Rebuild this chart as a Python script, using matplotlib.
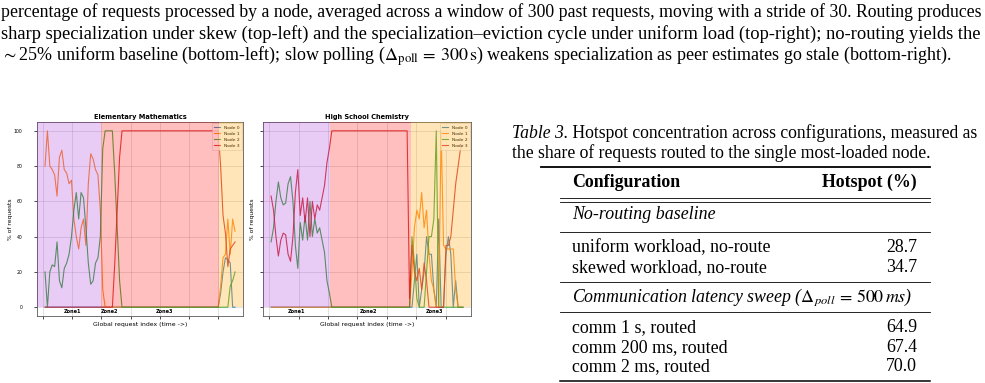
import numpy as np
import matplotlib.pyplot as plt
from matplotlib.lines import Line2D

plt.rcParams['mathtext.fontset'] = 'stix'

W, H = 985, 383
fig = plt.figure(figsize=(W / 100, H / 100), dpi=100)
renderer = fig.canvas.get_renderer()

# ---- data: % of requests per node, one value per sampled window ----
nodes = ['Node 0', 'Node 1', 'Node 2', 'Node 3']
node_colors = ['tab:blue', 'tab:orange', 'tab:green', 'tab:red']

math_node0 = [0, 0, 0, 0, 0, 0, 0, 0, 0, 0, 0, 0, 0, 0, 0, 0, 0, 0, 0, 0,
              0, 0, 0, 0, 0, 0, 0, 0, 0, 0, 0, 0, 0, 0, 0, 0, 0, 0, 0, 0,
              0, 0, 0, 0, 0, 0, 0, 0, 0, 0, 0, 0, 0, 0, 0, 0, 0, 0, 0, 0,
              0, 0, 0, 0, 0, 0, 0, 0, 0, 0, 0, 0, 0, 8, 20, 28, 27, 25, 0, 0]
math_node1 = [80, 100, 80, 78, 75, 63, 85, 89, 78, 76, 70, 72, 50, 40, 33, 45, 50, 35, 70, 87,
              84, 78, 75, 55, 10, 0, 0, 0, 0, 0, 0, 0, 0, 0, 0, 0, 0, 0, 0, 0,
              0, 0, 0, 0, 0, 0, 0, 0, 0, 0, 0, 0, 0, 0, 0, 0, 0, 0, 0, 0,
              0, 0, 0, 0, 0, 0, 0, 0, 0, 0, 0, 0, 0, 12, 28, 30, 50, 30, 50, 43]
math_node2 = [20, 0, 20, 24, 23, 37, 15, 11, 22, 25, 30, 40, 55, 65, 50, 65, 62, 45, 25, 13,
              15, 25, 28, 40, 90, 100, 100, 100, 100, 75, 45, 15, 0, 0, 0, 0, 0, 0, 0, 0,
              0, 0, 0, 0, 0, 0, 0, 0, 0, 0, 0, 0, 0, 0, 0, 0, 0, 0, 0, 0,
              0, 0, 0, 0, 0, 0, 0, 0, 0, 0, 0, 0, 0, 0, 0, 0, 0, 12, 15, 20]
math_node3 = [0, 0, 0, 0, 0, 0, 0, 0, 0, 0, 0, 0, 0, 0, 0, 0, 0, 0, 0, 0,
              0, 0, 0, 0, 0, 0, 0, 0, 0, 25, 55, 85, 100, 100, 100, 100, 100, 100, 100, 100,
              100, 100, 100, 100, 100, 100, 100, 100, 100, 100, 100, 100, 100, 100, 100, 100, 100, 100, 100, 100,
              100, 100, 100, 100, 100, 100, 100, 100, 100, 100, 100, 100, 100, 80, 52, 42, 23, 33, 35, 37]

chem_node0 = [0, 0, 0, 0, 0, 0, 0, 0, 0, 0, 0, 0, 0, 0, 0, 0, 0, 0, 0, 0,
              0, 0, 0, 0, 0, 0, 0, 0, 0, 0, 0, 0, 0, 0, 0, 0, 0, 0, 0, 0,
              0, 0, 0, 0, 0, 0, 0, 0, 0, 0, 0, 0, 0, 0, 0, 0, 0, 0, 0, 15,
              30, 0, 10, 20, 40, 30, 30, 10, 0, 50, 0, 0, 30, 40, 30, 0, 15, 0, 0, 0]
chem_node1 = [0, 0, 0, 0, 0, 0, 0, 0, 0, 0, 0, 0, 0, 0, 0, 0, 0, 0, 0, 0,
              0, 0, 0, 0, 0, 0, 0, 0, 0, 0, 0, 0, 0, 0, 0, 0, 0, 0, 0, 0,
              0, 0, 0, 0, 0, 0, 0, 0, 0, 0, 0, 0, 0, 0, 0, 0, 0, 0, 20, 45,
              55, 50, 65, 45, 55, 30, 15, 10, 0, 0, 100, 35, 33, 33, 33, 33, 10, 0, 0, 0]
chem_node2 = [37, 45, 60, 71, 62, 58, 59, 70, 74, 60, 35, 22, 48, 38, 52, 38, 60, 40, 50, 42,
              45, 38, 31, 15, 8, 0, 0, 0, 0, 0, 0, 0, 0, 0, 0, 0, 0, 0, 0, 0,
              0, 0, 0, 0, 0, 0, 0, 0, 0, 0, 0, 0, 0, 0, 0, 0, 0, 0, 40, 25,
              5, 0, 0, 0, 20, 40, 40, 50, 100, 0, 0, 0, 0, 0, 0, 0, 0, 0, 0, 0]
chem_node3 = [63, 55, 40, 29, 38, 42, 41, 30, 26, 40, 65, 78, 52, 62, 48, 62, 40, 60, 50, 58,
              55, 62, 69, 82, 90, 100, 100, 100, 100, 100, 100, 100, 100, 100, 100, 100, 100, 100, 100, 100,
              100, 100, 100, 100, 100, 100, 100, 100, 100, 100, 100, 100, 100, 100, 100, 100, 100, 5, 35, 20,
              15, 22, 10, 25, 15, 0, 0, 0, 0, 0, 0, 0, 35, 35, 40, 55, 70, 80, 90, 92]

# zone shading (window index where zones change) and zone label anchors
math_zone_edges = [23.3, 72.3]
chem_zone_edges = [24.1, 57.4]
math_zone_label_x = [11.6, 26.6, 49.5]
chem_zone_label_x = [10.4, 39.9, 67.4]
zone_names = ['Zone1', 'Zone2', 'Zone3']
zone_colors = [('darkviolet', 0.2), ('red', 0.25), ('orange', 0.28)]

# table
table_rows_a = ['uniform workload, no-route', 'skewed workload, no-route']
table_vals_a = ['28.7', '34.7']
table_rows_b = ['comm 1 s, routed', 'comm 200 ms, routed', 'comm 2 ms, routed']
table_vals_b = ['64.9', '67.4', '70.0']


def fx(x):
    return x / W


def fy(y):
    return 1 - y / H


def line_width(parts, size):
    total = 0
    for s, kw in parts:
        t = fig.text(0, 0, s, fontsize=size, **kw)
        total += t.get_window_extent(renderer).width
        t.remove()
    return total


def fit_size(parts, width, size=10):
    # scale a few times, text width is not exactly linear in size
    for _ in range(3):
        size = size * width / line_width(parts, size)
    return size


def put_line(x, y, parts, size):
    for s, kw in parts:
        t = fig.text(fx(x), fy(y), s, fontsize=size, va='baseline', ha='left', **kw)
        x += t.get_window_extent(renderer).width


serif = dict(family='Liberation Serif')

# ---- caption text on top ----
top_lines = [
    ('percentage of requests processed by a node, averaged across a window of 300 past requests, '
     'moving with a stride of 30. Routing produces', 17, 980),
    ('sharp specialization under skew (top-left) and the specialization\u2013eviction cycle under '
     'uniform load (top-right); no-routing yields the', 39, 980),
    (r'$\sim$25% uniform baseline (bottom-left); slow polling ($\Delta_{\mathrm{poll}}\, =\, 300\,\mathrm{s}$) '
     'weakens specialization as peer estimates go stale (bottom-right).', 61, 950),
]
for s, y, w in top_lines:
    size = fit_size([(s, serif)], w)
    put_line(1, y, [(s, serif)], size)


# ---- the two panels ----
def panel(rect, title, series, edges, label_x, ylabels, ylabel_x):
    ax = fig.add_axes(rect)
    x = np.arange(len(series[0]))
    for vals, name, c in zip(series, nodes, node_colors):
        ax.plot(x, vals, color=c, lw=0.8, alpha=0.85, label=name)
    ax.set_xlim(-3.33, 82.3)
    ax.set_ylim(-5, 105)
    ax.set_xticks(np.arange(7) * 12.12 - 0.8)
    ax.set_yticks([0, 20, 40, 60, 80, 100])
    ax.tick_params(axis='x', labelbottom=False, length=2, width=0.5)
    ax.tick_params(axis='y', labelsize=3.3, length=2.5, width=0.5, pad=8, labelleft=ylabels)
    ax.grid(True, color='0.55', alpha=0.35, lw=0.5)
    for sp in ax.spines.values():
        sp.set_color('0.35')
        sp.set_linewidth(0.6)
    ax.set_title(title, fontsize=4.8, fontweight='bold', pad=2)
    ax.set_xlabel('Global request index (time ->)', fontsize=4.4, labelpad=2)
    ax.set_ylabel('% of requests', fontsize=4.3)
    ax.yaxis.set_label_coords(ylabel_x, 0.5)
    leg = ax.legend(loc='upper right', fontsize=3.2, handlelength=1.4, borderpad=0.5,
                    labelspacing=0.45, borderaxespad=0.3, handletextpad=0.8, fancybox=False)
    leg.get_frame().set_linewidth(0.4)
    bounds = [-10] + edges + [100]
    for (c, a), x0, x1 in zip(zone_colors, bounds[:-1], bounds[1:]):
        ax.axvspan(x0, x1, ymin=5 / 110, ymax=1, color=c, alpha=a, lw=0, zorder=6)
    for name, xl in zip(zone_names, label_x):
        ax.text(xl, -2.6, name, fontsize=3.6, fontweight='bold', ha='center', va='center', zorder=7)
    return ax


panel([fx(37), fy(316), fx(243) - fx(37), fy(122) - fy(316)], 'Elementary Mathematics',
      [math_node0, math_node1, math_node2, math_node3], math_zone_edges, math_zone_label_x,
      True, -0.115)
panel([fx(263), fy(316), fx(471) - fx(263), fy(122) - fy(316)], 'High School Chemistry',
      [chem_node0, chem_node1, chem_node2, chem_node3], chem_zone_edges, chem_zone_label_x,
      False, -0.04)

# ---- table ----
cap1 = [('Table 3.', dict(family='Liberation Serif', style='italic')),
        (' Hotspot concentration across configurations, measured as', serif)]
cap_size = fit_size(cap1, 466)
put_line(512, 138, cap1, cap_size)
put_line(512, 158, [('the share of requests routed to the single most-loaded node.', serif)], cap_size)


def rule(y, x0, x1, lw):
    fig.add_artist(Line2D([fx(x0), fx(x1)], [fy(y), fy(y)], color='black', lw=lw))


rule(167, 541, 930, 1.3)
rule(197.5, 560, 930, 0.6)
rule(202, 560, 930, 0.6)
rule(232, 560, 930, 0.6)
rule(282, 560, 930, 0.6)
rule(312, 560, 930, 0.6)
rule(381, 560, 930, 1.1)

tsize = fit_size([(table_rows_a[0], serif)], 198)
bold = dict(family='Liberation Serif', weight='bold')
ital = dict(family='Liberation Serif', style='italic')


def cell(x, y, s, ha='left', **kw):
    fig.text(fx(x), fy(y + 5), s, fontsize=tsize, va='baseline', ha=ha, **kw)


cell(572, 182, 'Configuration', **bold)
cell(917, 182, 'Hotspot (%)', ha='right', **bold)
cell(572, 214, 'No-routing baseline', **ital)
for (s, v), y in zip(zip(table_rows_a, table_vals_a), [247, 267]):
    cell(572, y, s, **serif)
    cell(917, y, v, ha='right', **serif)
cell(572, 297, r'Communication latency sweep ($\Delta_{poll}\, =\, 500\,ms$)', **ital)
for (s, v), y in zip(zip(table_rows_b, table_vals_b), [327, 347, 366]):
    cell(572, y, s, **serif)
    cell(917, y, v, ha='right', **serif)

fig.savefig('out.png', dpi=100)
